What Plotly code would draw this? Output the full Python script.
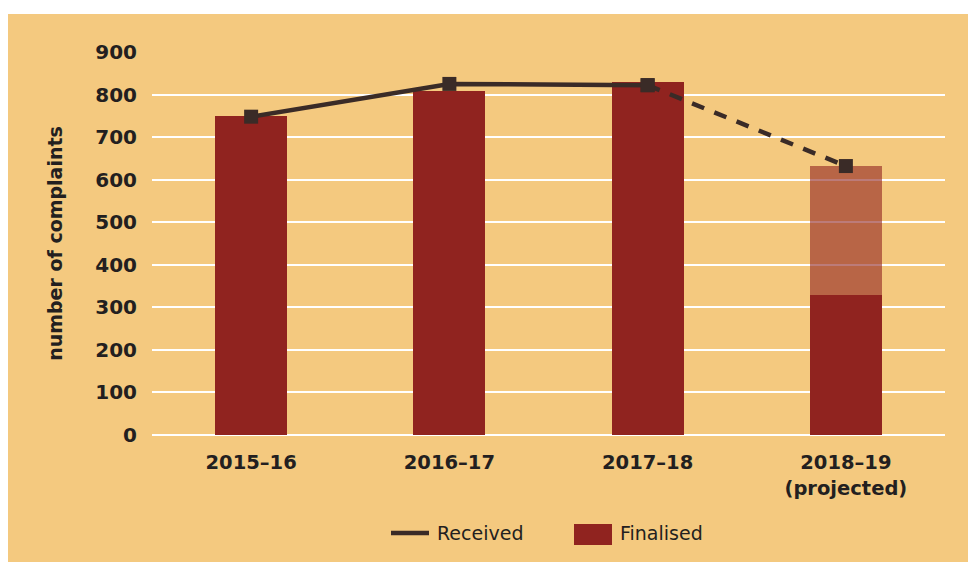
import plotly.graph_objects as go

categories = ["2015–16", "2016–17", "2017–18", "2018–19<br>(projected)"]
finalised = [750, 808, 829, 329]
finalised_projected = [0, 0, 0, 303]
received_actual = [748, 825, 822, None]
received_projected = [None, None, 822, 632]

BG = "#F4C97F"
RED = "#90231F"
RED_LIGHT = "rgba(144,35,31,0.6)"
LINE = "#3A2B27"
TEXT = "#231F20"
FONT = "DejaVu Sans"

fig = go.Figure()
fig.add_trace(go.Bar(x=categories, y=finalised, name="Finalised", marker_color=RED,
                     marker_line_width=0, width=0.363, showlegend=False))
fig.add_trace(go.Bar(x=categories, y=finalised_projected, name="Finalised (projected)",
                     marker_color=RED_LIGHT, marker_line_width=0, width=0.363, showlegend=False))
fig.add_trace(go.Scatter(x=categories, y=received_projected, mode="lines+markers",
                         name="Received (projected)",
                         line=dict(color=LINE, width=4.5, dash="13px,11px"),
                         marker=dict(symbol="square", size=14, color=LINE),
                         showlegend=False, connectgaps=False))
fig.add_trace(go.Scatter(x=categories, y=received_actual, mode="lines+markers",
                         name="Received",
                         line=dict(color=LINE, width=4.5),
                         marker=dict(symbol="square", size=14, color=LINE),
                         showlegend=False))

# page has an 8px body margin; figure coords = screenshot coords - 8
OFF = 8
L, R, T, B = 144, 39, 44, 135
W, H = 976, 562
pw, ph = W - L - R, H - T - B

def px_x(sx):
    return (sx - OFF - L) / pw

def px_y(sy):
    return (H - B - (sy - OFF)) / ph

shapes = [
    # white strip at top
    dict(type="rect", xref="paper", yref="paper", x0=px_x(-10), x1=px_x(1000), y0=px_y(14), y1=px_y(0),
         fillcolor="white", line_width=0, layer="below"),
    # custom legend
    dict(type="line", xref="paper", yref="paper", x0=px_x(391), x1=px_x(429), y0=px_y(533), y1=px_y(533),
         line=dict(color=LINE, width=4.5)),
    dict(type="rect", xref="paper", yref="paper", x0=px_x(574), x1=px_x(612), y0=px_y(545), y1=px_y(524),
         fillcolor=RED, line_width=0),
]
annotations = [
    dict(text="Received", xref="paper", yref="paper", x=px_x(435), y=px_y(533), xanchor="left",
         yanchor="middle", showarrow=False, font=dict(family=FONT, size=19, color=TEXT)),
    dict(text="Finalised", xref="paper", yref="paper", x=px_x(618), y=px_y(533), xanchor="left",
         yanchor="middle", showarrow=False, font=dict(family=FONT, size=19, color=TEXT)),
]

fig.update_layout(
    width=W, height=H,
    margin=dict(l=L, r=R, t=T, b=B),
    paper_bgcolor=BG, plot_bgcolor=BG,
    barmode="stack",
    showlegend=False,
    shapes=shapes,
    annotations=annotations,
    font=dict(family=FONT, color=TEXT),
    xaxis=dict(showgrid=False, zeroline=False, showline=False,
               tickfont=dict(family=FONT, size=19.5, color=TEXT, weight="bold"),
               ticks="outside", ticklen=10, tickcolor="rgba(0,0,0,0)"),
    yaxis=dict(range=[0, 900], dtick=100, showgrid=True, gridcolor="white", gridwidth=2,
               zeroline=True, zerolinecolor="white", zerolinewidth=2,
               showline=False,
               tickfont=dict(family=FONT, size=20, color=TEXT, weight="bold"),
               ticklabelstandoff=14,
               title=dict(text="number of complaints", standoff=27,
                          font=dict(family=FONT, size=19, color=TEXT, weight="bold"))),
)

fig.write_html("out.html")
